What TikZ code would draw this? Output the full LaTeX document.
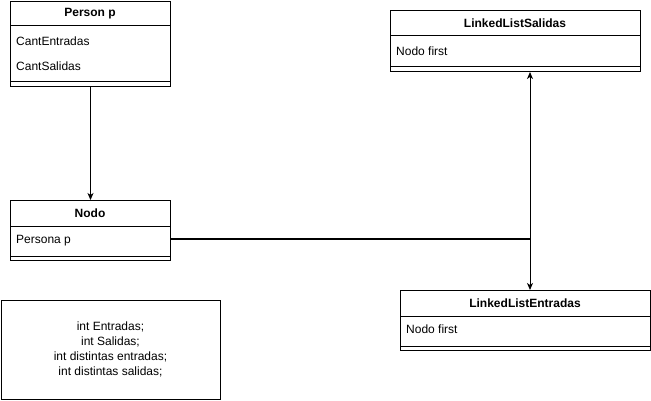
\documentclass[tikz,border=0pt]{standalone}
\usepackage{fontspec}
\setmainfont{Liberation Sans}
\usetikzlibrary{arrows.meta}
\begin{document}
\begin{tikzpicture}[x=1pt,y=-1pt,
  box/.style={draw, line width=1pt, anchor=north west, inner sep=0pt},
  ttl/.style={font=\fontsize{12}{14}\selectfont\bfseries, anchor=center},
  itm/.style={font=\fontsize{12}{14}\selectfont, anchor=west, inner sep=0pt},
  sep/.style={line width=1pt},
  arr/.style={line width=1pt, -{Stealth[length=7pt,width=6pt,inset=2pt]}}]
\useasboundingbox (0,0) rectangle (651,401);
% Person p
\node[box, minimum width=160pt, minimum height=85pt] (person) at (10,1) {};
\draw[sep] (10,26) -- (170,26);
\draw[sep] (10,82) -- (170,82);
\node[ttl] (pt) at (90,13.5) {Person p};
\node[itm] (pe) at (16,41) {CantEntradas};
\node[itm] (ps) at (16,66) {CantSalidas};
% LinkedListSalidas
\node[box, minimum width=250pt, minimum height=61pt] (sal) at (390,10) {};
\draw[sep] (390,36) -- (640,36);
\draw[sep] (390,67) -- (640,67);
\node[ttl] (salt) at (515,23) {LinkedListSalidas};
\node[itm] (salf) at (396,51) {Nodo first};
% Nodo
\node[box, minimum width=160pt, minimum height=60pt] (nodo) at (10,200) {};
\draw[sep] (10,226) -- (170,226);
\draw[sep] (10,256) -- (170,256);
\node[ttl] (nodot) at (90,213) {Nodo};
\node[itm] (nodop) at (16,241) {Persona p};
% LinkedListEntradas
\node[box, minimum width=250pt, minimum height=60pt] (ent) at (400,290) {};
\draw[sep] (400,316) -- (650,316);
\draw[sep] (400,346) -- (650,346);
\node[ttl] (entt) at (525,303) {LinkedListEntradas};
\node[itm] (entf) at (406,329) {Nodo first};
% text box
\node[box, minimum width=219pt, minimum height=99pt] (txt) at (1,300) {};
\node[font=\fontsize{12}{15}\selectfont, align=center, anchor=center] (txtc) at (110.5,349.5)
  {int Entradas;\\ int Salidas;\\ int distintas entradas;\\ int distintas salidas;};
% connectors
\coordinate (j) at (530,239);
\draw[arr] (person.south) -- (nodo.north);
\draw[line width=2pt] (nodo.east |- j) -- (j);
\draw[arr] (j) -- (sal.south -| j);
\draw[arr] (j) -- (ent.north -| j);
\end{tikzpicture}
\end{document}
